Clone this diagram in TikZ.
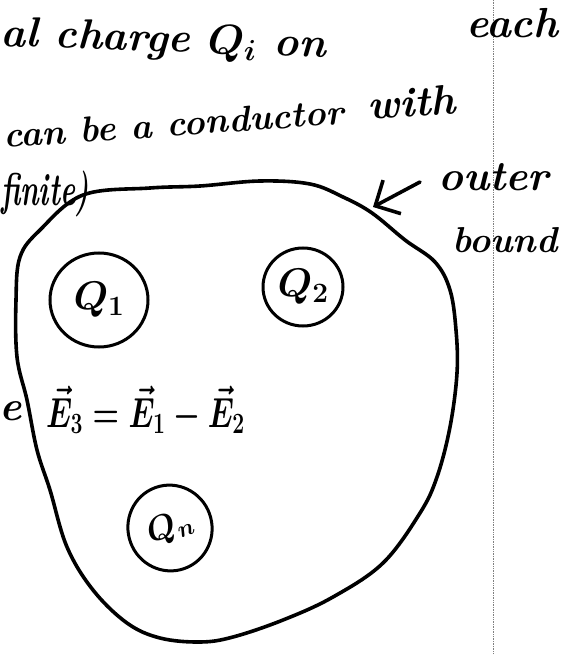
\RequirePackage{fix-cm}
\documentclass[tikz,border=0pt]{standalone}
\usepackage{amsmath,amssymb}
\usetikzlibrary{arrows.meta, shapes.geometric}

\begin{document}
\begin{tikzpicture}[x=1pt, y=-1pt,
    hand/.style={font=\fontsize{42}{44}\selectfont\bfseries\itshape\boldmath, inner sep=0pt},
    pen/.style={line width=3.6pt, line cap=round, line join=round},
    charge/.style={ellipse, draw, line width=3pt, inner sep=0pt,
      font=\fontsize{40}{42}\selectfont\boldmath}]
    \useasboundingbox (0,0) rectangle (560,655);

    % fold line of the scanned page
    \draw[gray, densely dotted, line width=0.7pt] (493,0) -- (493,655);

    % Text above the picture
    \node[hand, anchor=base west, rotate=-2] (line1) at (0,46) {al charge $Q_i$ on};
    \node[hand, anchor=base west] (each) at (466,38) {each};
    \node[hand, anchor=base west, rotate=4, font=\fontsize{36}{38}\selectfont\bfseries\itshape]
      (line2) at (4,148) {can be a conductor};
    \node[hand, anchor=base west, rotate=4] (with) at (368,120) {with};
    \node[hand, anchor=base west, xscale=0.62, transform shape,
      font=\fontsize{46}{48}\selectfont\bfseries\itshape] (finite) at (1,205) {finite)};

    % Outer boundary
    \draw[pen] plot[smooth cycle, tension=0.6] coordinates {
      (83,195) (150,188) (200,186) (260,181) (310,184) (343,197) (372,213)
      (405,240) (435,262) (450,290) (456,330) (457,373) (450,427) (437,477)
      (420,513) (383,563) (333,597) (283,620) (233,637) (200,642) (160,638)
      (127,623) (93,590) (67,547) (50,490) (37,450) (27,400) (17,357)
      (16,300) (20,257) (40,230)};

    % Label of the boundary
    \node[hand, anchor=base west] (outer) at (438,190) {outer};
    \node[hand, anchor=base west, font=\fontsize{36}{38}\selectfont\bfseries\itshape]
      (bound) at (452,252) {bound};
    \coordinate (tail) at (420,182);
    \coordinate (tip) at (373,207);
    \draw[pen, -{Straight Barb[length=19pt, width=38pt, line width=3.6pt]}] (tail) -- (tip);

    % Charges inside
    \node[charge, minimum width=98pt, minimum height=94pt] (q1) at (99,300) {$Q_1$};
    \node[charge, minimum width=80pt, minimum height=78pt] (q2) at (303,287) {$Q_2$};
    \node[charge, minimum width=84pt, minimum height=86pt, rotate=20,
      font=\fontsize{34}{36}\selectfont\boldmath] (qn) at (170,528) {$Q_n$};

    % Field relation
    \node[hand, anchor=base east] (eL) at (22,420) {e};
    \node[hand, anchor=base west, xscale=0.72, transform shape] (eqn) at (46,427)
      {$\vec{E}_3 = \vec{E}_1 - \vec{E}_2$};
\end{tikzpicture}
\end{document}
